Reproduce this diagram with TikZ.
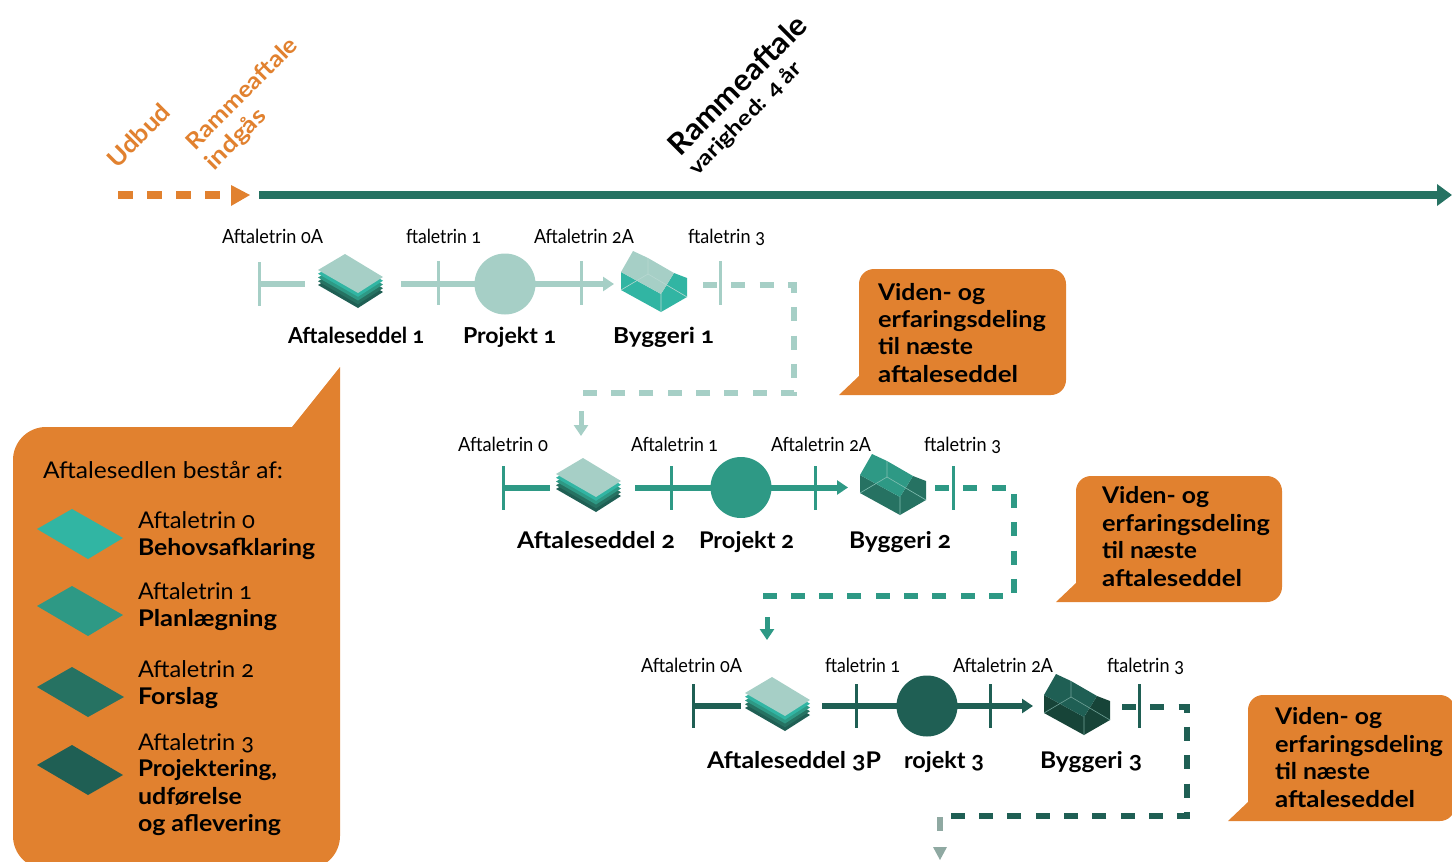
\documentclass[tikz,border=0pt]{standalone}
\usepackage{fontspec}
\usepackage{graphicx}
\setmainfont[Numbers=OldStyle]{Lato}
\usetikzlibrary{arrows.meta}
\definecolor{cA}{HTML}{A6CFC6}
\definecolor{cB}{HTML}{2E9985}
\definecolor{cC}{HTML}{1F5F54}
\definecolor{tq}{HTML}{31B5A3}
\definecolor{md}{HTML}{267262}
\definecolor{wallB}{HTML}{267262}
\definecolor{wallC}{HTML}{174438}
\definecolor{orng}{HTML}{E1812F}
\definecolor{gry}{HTML}{8FA9A2}
\newcommand\fw[2]{\resizebox{#1pt}{\height}{#2}}
\tikzset{
  x=1pt,y=-1pt,
  rot/.style={inner sep=0pt,outer sep=0pt,anchor=base west,rotate=45},
  txt/.style={inner sep=0pt,outer sep=0pt,anchor=base west,text=black},
  txtd/.style={txt,yshift=-1pt},
  small/.style={txt,font=\fontsize{19.5}{19.5}\selectfont},
  big/.style={txtd,font=\fontsize{22}{22}\selectfont\bfseries},
  bigg/.style={txtd,font=\fontsize{23}{23}\selectfont\bfseries},
  leg/.style={txtd,font=\fontsize{23}{23}\selectfont},
  legb/.style={txt,font=\fontsize{23}{23}\selectfont\bfseries},
  call/.style={txt,font=\fontsize{23}{23}\selectfont\bfseries},
  barline/.style={line width=3pt},
  solidline/.style={line width=6pt},
  dashline/.style={line width=6pt,dash pattern=on 14pt off 14.3pt},
  arr/.style={-{Triangle[length=11pt,width=14pt]}},
  bubble/.style={fill=orng,draw=none},
  disc/.style={circle,minimum size=61pt,inner sep=0pt,outer sep=0pt},
  pics/stack/.style={code={
    \foreach \o/\c in {15/cC,11.25/md,7.5/cB,3.75/tq}{
      \fill[\c] (345,254+\o) -- (383,277+\o) -- (358,293+\o) -- (318,270+\o) -- cycle;}
    \fill[cA] (345,254) -- (383,277) -- (358,293) -- (318,270) -- cycle;
  }},
  pics/house/.style n args={3}{code={
    \fill[#2] (621,272) -- (661,294) -- (674,273) -- (687,278) -- (687,297) -- (661,312) -- (621,290) -- cycle;
    \fill[#1] (633,251) -- (648,258) -- (674,273) -- (661,294) -- (621,272) -- cycle;
    \draw[#3,line width=.6pt] (621,290) -- (648,274) -- (687,297)
      (648,274) -- (648,258) (661,294) -- (661,312);
  }},
}
\begin{document}
\begin{tikzpicture}
\useasboundingbox (0,0) rectangle (1452,862);
% timeline
\coordinate (tlA) at (259,195); \coordinate (tlB) at (1452,195);
\draw[md,line width=8pt,-{Triangle[length=15pt,width=21pt]}] (tlA) -- (tlB);
\coordinate (udA) at (118,195); \coordinate (udB) at (250,195);
\draw[orng,line width=8pt,dash pattern=on 15pt off 14pt] (udA) -- (222,195);
\fill[orng] (231,185) -- (udB) -- (231,206) -- cycle;
% top labels
\node[rot,text=orng,font=\fontsize{24}{24}\selectfont\bfseries] (ud) at (117,169) {\fw{78}{Udbud}};
\node[rot,text=orng,font=\fontsize{23}{23}\selectfont\bfseries] (ra) at (195,151) {\fw{147}{Rammeaftale}};
\node[rot,text=orng,font=\fontsize{23}{23}\selectfont\bfseries] (in) at (214,171) {\fw{76}{indgås}};
\node[rot,font=\fontsize{30}{30}\selectfont\bfseries] (rb) at (680,157) {\fw{183}{Rammeaftale}};
\node[rot,font=\fontsize{21}{21}\selectfont\bfseries] (va) at (697,176) {\fw{150}{varighed: 4 år}};
% row 1
\pic {stack};
\pic {house={cA}{tq}{cA!80!white}};
\node[disc,fill=cA] (c1) at (505,284) {};
\coordinate (s1a) at (259,262); \coordinate (s1b) at (259,306);
\coordinate (s1m) at (259,284); \coordinate (s1e) at (305,284);
\coordinate (a1) at (401,284); \coordinate (e1) at (614,284);
\draw[cA,barline] (s1a) -- (s1b);
\draw[cA,solidline] (s1m) -- (s1e);
\draw[cA,solidline] (a1) -- (c1.center);
\draw[cA,solidline,arr] (c1.center) -- (e1);
\draw[cA,barline] (438,261) -- (438,305) (581,261) -- (581,305) (720,261) -- (720,305);
\coordinate (d1a) at (703,285); \coordinate (d1b) at (794,285); \coordinate (d1c) at (794,393); \coordinate (d1d) at (579,393);
\draw[cA,dashline] (d1a) -- (d1b) -- (d1c) -- (d1d);
\coordinate (u1a) at (581,411); \coordinate (u1b) at (581,436);
\draw[cA,line width=5pt,arr] (u1a) -- (u1b);
\node[small] (l1a) at (222,243) {\fw{101}{Aftaletrin 0A}};
\node[small] (l1b) at (406,243) {\fw{75}{ftaletrin 1}};
\node[small] (l1c) at (534,243) {\fw{100}{Aftaletrin 2A}};
\node[small] (l1d) at (688,243) {\fw{77}{ftaletrin 3}};
\node[big] (n1a) at (288,342) {\fw{136}{Aftaleseddel 1}};
\node[big] (n1b) at (463,342) {\fw{93}{Projekt 1}};
\node[big] (n1c) at (613,342) {\fw{101}{Byggeri 1}};
% row 2
\begin{scope}[shift={(238,204)}] \pic {stack}; \end{scope}
\begin{scope}[shift={(239,203)}] \pic {house={cB}{wallB}{cA!70!cB}}; \end{scope}
\node[disc,fill=cB] (c2) at (741,487.5) {};
\coordinate (s2a) at (503,466); \coordinate (s2b) at (503,510);
\coordinate (s2m) at (503,487.5); \coordinate (s2e) at (550,487.5);
\coordinate (a2) at (635,487.5); \coordinate (e2) at (848,487.5);
\draw[cB,barline] (s2a) -- (s2b);
\draw[cB,solidline] (s2m) -- (s2e);
\draw[cB,solidline] (a2) -- (c2.center);
\draw[cB,solidline,arr] (c2.center) -- (e2);
\draw[cB,barline] (671,466) -- (671,510) (815,466) -- (815,510) (953,466) -- (953,510);
\coordinate (d2a) at (935,488); \coordinate (d2b) at (1014,488); \coordinate (d2c) at (1014,596); \coordinate (d2d) at (763,596);
\draw[cB,dashline] (d2a) -- (d2b) -- (d2c) -- (d2d);
\coordinate (u2a) at (767,617); \coordinate (u2b) at (767,640);
\draw[cB,line width=5pt,arr] (u2a) -- (u2b);
\node[small] (l2a) at (458,451) {\fw{90}{Aftaletrin 0}};
\node[small] (l2b) at (631,451) {\fw{87}{Aftaletrin 1}};
\node[small] (l2c) at (771,451) {\fw{100}{Aftaletrin 2A}};
\node[small] (l2d) at (924,451) {\fw{77}{ftaletrin 3}};
\node[bigg] (n2a) at (517,547) {\fw{158}{Aftaleseddel 2}};
\node[bigg] (n2b) at (699,547) {\fw{95}{Projekt 2}};
\node[bigg] (n2c) at (849,547) {\fw{102}{Byggeri 2}};
% row 3
\begin{scope}[shift={(427,423)}] \pic {stack}; \end{scope}
\begin{scope}[shift={(423,423)}] \pic {house={cC}{wallC}{cA!60!cC}}; \end{scope}
\node[disc,fill=cC] (c3) at (927,706) {};
\coordinate (s3a) at (693,684); \coordinate (s3b) at (693,728);
\coordinate (s3m) at (693,706); \coordinate (s3e) at (741,706);
\coordinate (a3) at (822,706); \coordinate (e3) at (1033,706);
\draw[cC,barline] (s3a) -- (s3b);
\draw[cC,solidline] (s3m) -- (s3e);
\draw[cC,solidline] (a3) -- (c3.center);
\draw[cC,solidline,arr] (c3.center) -- (e3);
\draw[cC,barline] (856,684) -- (856,728) (990,684) -- (990,728) (1139,684) -- (1139,728);
\coordinate (d3a) at (1122,707); \coordinate (d3b) at (1187,707); \coordinate (d3c) at (1187,816); \coordinate (d3d) at (947,816);
\draw[cC,dashline] (d3a) -- (d3b) -- (d3c) -- (d3d);
\coordinate (u3a) at (940,817); \coordinate (u3b) at (940,831);
\draw[gry,line width=6pt] (u3a) -- (u3b);
\coordinate (u3d) at (940,860);
\fill[gry] (933,847) -- (947,847) -- (u3d) -- cycle;
\node[small] (l3a) at (641,672) {\fw{101}{Aftaletrin 0A}};
\node[small] (l3b) at (825,672) {\fw{75}{ftaletrin 1}};
\node[small] (l3c) at (953,672) {\fw{100}{Aftaletrin 2A}};
\node[small] (l3d) at (1107,672) {\fw{77}{ftaletrin 3}};
\node[bigg] (n3a) at (707,767) {\fw{174}{Aftaleseddel 3P}};
\node[bigg] (n3b) at (904,767) {\fw{80}{rojekt 3}};
\node[bigg] (n3c) at (1040,767) {\fw{102}{Byggeri 3}};
% callouts
\fill[bubble] (839,395) -- (859,376) -- (859,284) arc[start angle=180,end angle=90,radius=15pt] -- (1051,269) arc[start angle=90,end angle=0,radius=15pt] -- (1066,380) arc[start angle=0,end angle=-90,radius=15pt] -- cycle;
\node[call] (t1a) at (878,300) {\fw{107}{Viden- og}};
\node[call] (t1b) at (878,327) {\fw{168}{erfaringsdeling}};
\node[call] (t1c) at (878,354) {\fw{95}{til næste}};
\node[call] (t1d) at (878,382) {\fw{140}{aftaleseddel}};
\fill[bubble] (1056,602) -- (1076,583) -- (1076,491) arc[start angle=180,end angle=90,radius=15pt] -- (1267,476) arc[start angle=90,end angle=0,radius=15pt] -- (1282,587) arc[start angle=0,end angle=-90,radius=15pt] -- cycle;
\node[call] (t2a) at (1102,503) {\fw{107}{Viden- og}};
\node[call] (t2b) at (1102,531) {\fw{168}{erfaringsdeling}};
\node[call] (t2c) at (1102,558) {\fw{95}{til næste}};
\node[call] (t2d) at (1102,586) {\fw{140}{aftaleseddel}};
\fill[bubble] (1228,821) -- (1248,802) -- (1248,710) arc[start angle=180,end angle=90,radius=15pt] -- (1440,695) arc[start angle=90,end angle=0,radius=15pt] -- (1455,806) arc[start angle=0,end angle=-90,radius=15pt] -- cycle;
\node[call] (t3a) at (1275,724) {\fw{107}{Viden- og}};
\node[call] (t3b) at (1275,752) {\fw{168}{erfaringsdeling}};
\node[call] (t3c) at (1275,779) {\fw{95}{til næste}};
\node[call] (t3d) at (1275,807) {\fw{140}{aftaleseddel}};
% legend
\fill[bubble] (340,367) -- (340,836) arc[start angle=0,end angle=-90,radius=33pt] -- (46,869) arc[start angle=-90,end angle=-180,radius=33pt] -- (13,460) arc[start angle=180,end angle=90,radius=33pt] -- (292,427) -- cycle;
\node[leg] (h0) at (43,477) {\fw{240}{Aftalesedlen består af:}};
\fill[tq] (37,529) -- (72,509) -- (123,538) -- (88,559) -- cycle;
\fill[cB] (37,606) -- (72,586) -- (123,615) -- (88,636) -- cycle;
\fill[md] (37,687) -- (72,667) -- (124,697) -- (88,717) -- cycle;
\fill[cC] (37,765) -- (72,745) -- (123,775) -- (88,795) -- cycle;
\node[leg] (g0) at (138,527) {\fw{117}{Aftaletrin 0}};
\node[legb] (b0) at (138,555) {\fw{177}{Behovsafklaring}};
\node[leg] (g1) at (138,598) {\fw{114}{Aftaletrin 1}};
\node[legb] (b1) at (138,626) {\fw{139}{Planlægning}};
\node[leg] (g2) at (138,676) {\fw{116}{Aftaletrin 2}};
\node[legb] (b2) at (138,704) {\fw{80}{Forslag}};
\node[leg] (g3) at (138,749) {\fw{116}{Aftaletrin 3}};
\node[legb] (b3) at (138,776) {\fw{139}{Projektering,}};
\node[legb] (b4) at (138,804) {\fw{104}{udførelse}};
\node[legb] (b5) at (138,831) {\fw{143}{og aflevering}};
\end{tikzpicture}
\end{document}
